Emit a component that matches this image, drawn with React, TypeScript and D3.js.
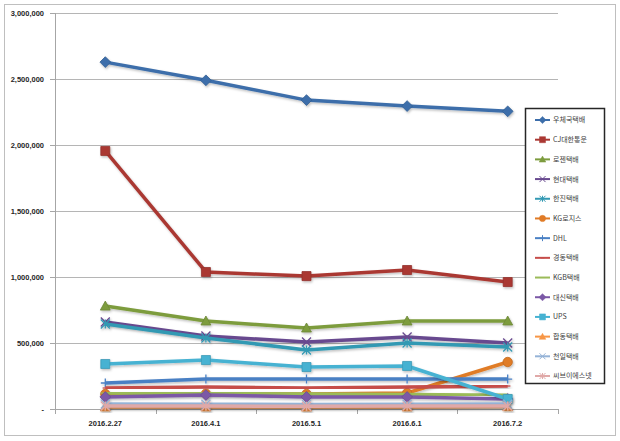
import { useEffect, useRef } from "react";
import * as d3 from "d3";

const categories = ["2016.2.27", "2016.4.1", "2016.5.1", "2016.6.1", "2016.7.2"];
const yTicks = [0, 500000, 1000000, 1500000, 2000000, 2500000, 3000000];

const seriesNames = [
  "우체국택배", "CJ대한통운", "로젠택배", "현대택배", "한진택배", "KG로지스", "DHL",
  "경동택배", "KGB택배", "대신택배", "UPS", "합동택배", "천일택배", "씨브이에스넷",
];

const epost = [2628000, 2490000, 2340000, 2295000, 2255000];
const cj = [1955000, 1038000, 1007000, 1053000, 962000];
const logen = [780000, 667000, 614000, 667000, 667000];
const hyundai = [659000, 553000, 508000, 545000, 500000];
const hanjin = [644000, 538000, 447000, 500000, 470000];
const kgLogis = [114000, 116000, 114000, 121000, 356000];
const dhl = [197000, 227000, 227000, 227000, 227000];
const kyungdong = [159000, 167000, 159000, 167000, 174000];
const kgb = [121000, 118000, 114000, 110000, 105000];
const daesin = [91000, 106000, 91000, 91000, 76000];
const ups = [341000, 371000, 318000, 326000, 76000];
const hapdong = [16000, 16000, 15000, 16000, 18000];
const chunil = [38000, 36000, 35000, 36000, 37000];
const cvsnet = [23000, 22000, 21000, 22000, 22000];

const seriesValues = [
  epost, cj, logen, hyundai, hanjin, kgLogis, dhl,
  kyungdong, kgb, daesin, ups, hapdong, chunil, cvsnet,
];

const colors = [
  "#3c6eaa", "#aa3833", "#7d9c3e", "#68498f", "#3399b3", "#e07b26", "#4a80c4",
  "#c64d4a", "#9bbb59", "#7b58a6", "#46b2d2", "#f79646", "#95b3d7", "#e0a9a8",
];

const markers = [
  "diamond", "square", "triangle", "x", "star", "circle", "plus",
  "dash", "longdash", "diamond", "square", "triangle", "x", "star",
];

function markerPath(kind: string, s: number): string {
  const h = s / 2;
  switch (kind) {
    case "diamond":
      return `M0,${-h * 1.2}L${h * 1.2},0L0,${h * 1.2}L${-h * 1.2},0Z`;
    case "square":
      return `M${-h},${-h}H${h}V${h}H${-h}Z`;
    case "triangle":
      return `M0,${-h * 1.1}L${h * 1.1},${h * 0.9}L${-h * 1.1},${h * 0.9}Z`;
    case "circle":
      return d3.symbol().type(d3.symbolCircle).size(s * s * 0.85)() || "";
    case "x":
      return `M${-h},${-h}L${h},${h}M${h},${-h}L${-h},${h}`;
    case "star":
      return `M${-h},${-h}L${h},${h}M${h},${-h}L${-h},${h}M0,${-h}V${h}`;
    case "plus":
      return `M${-h},0H${h}M0,${-h}V${h}`;
    case "dash":
      return `M${-h * 0.6},0H${h * 0.6}`;
    default:
      return `M${-h},0H${h}`;
  }
}

const isOpen = (k: string) => ["x", "star", "plus", "dash", "longdash"].includes(k);

export default function App() {
  const svgRef = useRef<SVGSVGElement>(null);
  const width = 620;
  const height = 441;

  useEffect(() => {
    if (!svgRef.current) return;
    const svg = d3.select(svgRef.current);
    svg.selectAll("*").remove();

    const plot = { left: 55, right: 558, top: 13, bottom: 409 };

    const defs = svg.append("defs");
    const shadow = defs.append("filter").attr("id", "shadow").attr("x", "-10%").attr("y", "-10%").attr("width", "120%").attr("height", "130%");
    shadow.append("feDropShadow").attr("dx", 1).attr("dy", 1.5).attr("stdDeviation", 1).attr("flood-color", "#000").attr("flood-opacity", 0.25);

    svg.append("rect").attr("width", width).attr("height", height).attr("fill", "#fff");

    // chart frame
    svg.append("rect")
      .attr("x", 4.5).attr("y", 4.5).attr("width", 611).attr("height", 431)
      .attr("fill", "#fff").attr("stroke", "#bfbfbf").attr("stroke-width", 1);

    const x = d3.scalePoint<string>().domain(categories).range([plot.left, plot.right]).padding(0.5);
    const y = d3.scaleLinear().domain([0, 3000000]).range([plot.bottom, plot.top]);
    const band = (plot.right - plot.left) / categories.length;

    // gridlines
    svg.append("g")
      .selectAll("line")
      .data(yTicks.filter((t) => t > 0))
      .enter()
      .append("line")
      .attr("x1", plot.left).attr("x2", plot.right)
      .attr("y1", (d) => Math.round(y(d)) + 0.5).attr("y2", (d) => Math.round(y(d)) + 0.5)
      .attr("stroke", "#b5b5b5").attr("stroke-width", 1);

    // axes
    const axisColor = "#a6a6a6";
    svg.append("line")
      .attr("x1", plot.left + 0.5).attr("x2", plot.left + 0.5)
      .attr("y1", plot.top).attr("y2", plot.bottom)
      .attr("stroke", axisColor);
    svg.append("line")
      .attr("x1", plot.left).attr("x2", plot.right)
      .attr("y1", plot.bottom + 0.5).attr("y2", plot.bottom + 0.5)
      .attr("stroke", axisColor);

    svg.append("g")
      .selectAll("line")
      .data(yTicks)
      .enter()
      .append("line")
      .attr("x1", plot.left - 5).attr("x2", plot.left)
      .attr("y1", (d) => Math.round(y(d)) + 0.5).attr("y2", (d) => Math.round(y(d)) + 0.5)
      .attr("stroke", axisColor);

    svg.append("g")
      .selectAll("line")
      .data(d3.range(categories.length + 1))
      .enter()
      .append("line")
      .attr("x1", (i) => Math.round(plot.left + i * band) + 0.5)
      .attr("x2", (i) => Math.round(plot.left + i * band) + 0.5)
      .attr("y1", plot.bottom).attr("y2", plot.bottom + 5)
      .attr("stroke", axisColor);

    const fmt = d3.format(",");
    svg.append("g")
      .selectAll("text")
      .data(yTicks)
      .enter()
      .append("text")
      .attr("x", 44)
      .attr("y", (d) => y(d))
      .attr("dy", "0.35em")
      .attr("text-anchor", "end")
      .style("font-family", "'Liberation Sans', Arial, sans-serif")
      .style("font-size", "7.5px")
      .style("font-weight", "700")
      .style("fill", "#262626")
      .text((d) => (d === 0 ? "-" : fmt(d)));

    svg.append("g")
      .selectAll("text")
      .data(categories)
      .enter()
      .append("text")
      .attr("x", (d) => x(d) as number)
      .attr("y", 426)
      .attr("text-anchor", "middle")
      .style("font-family", "'Liberation Sans', Arial, sans-serif")
      .style("font-size", "7.5px")
      .style("font-weight", "700")
      .style("fill", "#262626")
      .text((d) => d);

    // series
    const line = d3
      .line<number>()
      .x((_, i) => x(categories[i]) as number)
      .y((d) => y(d));

    const seriesG = svg.append("g");
    seriesValues.forEach((vals, si) => {
      const g = seriesG.append("g").attr("filter", "url(#shadow)");
      g.append("path")
        .attr("d", line(vals))
        .attr("fill", "none")
        .attr("stroke", colors[si])
        .attr("stroke-width", 3.5)
        .attr("stroke-linejoin", "round");
      const kind = markers[si];
      g.selectAll(".m")
        .data(vals)
        .enter()
        .append("path")
        .attr("transform", (d, i) => `translate(${x(categories[i])},${y(d)})`)
        .attr("d", markerPath(kind, 9))
        .attr("fill", isOpen(kind) ? "none" : colors[si])
        .attr("stroke", isOpen(kind) ? colors[si] : d3.color(colors[si])!.darker(0.4).formatHex())
        .attr("stroke-width", isOpen(kind) ? 1.3 : 0.8);
    });

    // legend
    const legend = svg.append("g");
    legend.append("rect")
      .attr("x", 525.5).attr("y", 108.5).attr("width", 79).attr("height", 275)
      .attr("fill", "#fff").attr("stroke", "#262626").attr("stroke-width", 1.5);

    const ly = d3.scaleLinear().domain([0, seriesNames.length - 1]).range([120, 376]);
    seriesNames.forEach((name, si) => {
      const cy = ly(si);
      const kind = markers[si];
      legend.append("line")
        .attr("x1", 535).attr("x2", 550).attr("y1", cy).attr("y2", cy)
        .attr("stroke", colors[si]).attr("stroke-width", 2);
      legend.append("path")
        .attr("transform", `translate(542.5,${cy})`)
        .attr("d", markerPath(kind, 6))
        .attr("fill", isOpen(kind) ? "none" : colors[si])
        .attr("stroke", colors[si])
        .attr("stroke-width", isOpen(kind) ? 1 : 0.5);
      legend.append("text")
        .attr("x", 553)
        .attr("y", cy)
        .attr("dy", "0.35em")
        .style("font-family", "'Noto Sans CJK KR', 'Liberation Sans', sans-serif")
        .style("font-size", "7px")
        .style("fill", "#404040")
        .text(name);
    });
  }, []);

  return (
    <div style={{ position: "absolute", left: 0, top: 0 }}>
      <svg ref={svgRef} width={width} height={height}></svg>
    </div>
  );
}
